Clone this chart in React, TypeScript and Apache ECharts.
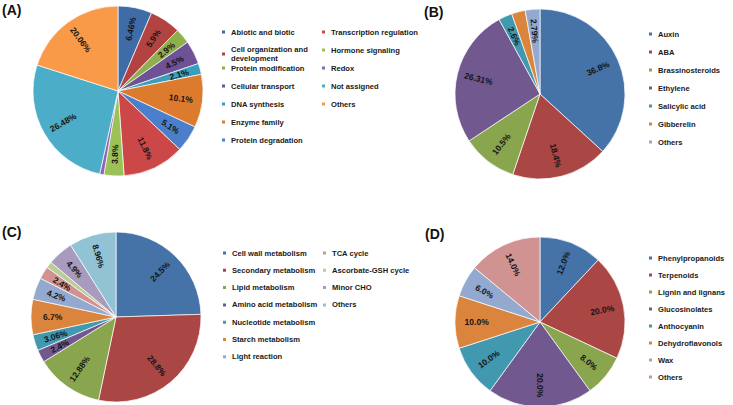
import React, { useEffect, useRef } from "react";
import * as echarts from "echarts";

const A_NAMES = [
  "Abiotic and biotic",
  "Cell organization and development",
  "Protein modification",
  "Cellular transport",
  "DNA synthesis",
  "Enzyme family",
  "Protein degradation",
  "Transcription regulation",
  "Hormone signaling",
  "Redox",
  "Not assigned",
  "Others",
];
const A_VALUES = [6.46, 5.9, 2.9, 4.5, 2.1, 10.1, 5.1, 11.8, 3.8, 0.8, 26.48, 20.06];
const A_COLORS = ["#3F6BA6", "#B24340", "#8DAF4C", "#6F5195", "#3A9FBA", "#DC7B2E", "#4B7FCB", "#CC4848", "#9CC157", "#8A67B8", "#4BADC8", "#F89A47"];

const B_NAMES = ["Auxin", "ABA", "Brassinosteroids", "Ethylene", "Salicylic acid", "Gibberelin", "Others"];
const B_VALUES = [36.8, 18.4, 10.5, 26.31, 2.6, 2.6, 2.79];
const B_COLORS = ["#4572A7", "#AA4643", "#89A54E", "#71588F", "#4198AF", "#DB843D", "#93A9CF"];

const C_NAMES = [
  "Cell wall metabolism",
  "Secondary metabolism",
  "Lipid metabolism",
  "Amino acid metabolism",
  "Nucleotide metabolism",
  "Starch metabolism",
  "Light reaction",
  "TCA cycle",
  "Ascorbate-GSH cycle",
  "Minor CHO",
  "Others",
];
const C_VALUES = [24.5, 28.8, 12.88, 2.4, 3.06, 6.7, 4.2, 2.4, 1.2, 4.9, 8.96];
const C_COLORS = ["#4572A7", "#AA4643", "#89A54E", "#71588F", "#4198AF", "#DB843D", "#93A9CF", "#D19392", "#B9CD96", "#A99BBD", "#92C3D5"];

const D_NAMES = ["Phenylpropanoids", "Terpenoids", "Lignin and lignans", "Glucosinolates", "Anthocyanin", "Dehydroflavonols", "Wax", "Others"];
const D_VALUES = [12.0, 20.0, 8.0, 20.0, 10.0, 10.0, 6.0, 14.0];
const D_COLORS = ["#4572A7", "#AA4643", "#89A54E", "#71588F", "#4198AF", "#DB843D", "#93A9CF", "#D19392"];

const PANEL_TITLES = ["(A)", "(B)", "(C)", "(D)"];

const FONT = "'Liberation Sans', Arial, sans-serif";
const R = 85;

function pieSeries(id: string, names: string[], values: number[], colors: string[], center: number[], digits: number | null) {
  const data = names.map((n, i) => ({ name: n, value: values[i], itemStyle: { color: colors[i] } }));
  const labelData = names.map((n, i) => ({
    name: n,
    value: values[i],
    label: { show: values[i] >= 1 },
  }));
  return [
    {
      id: id + "-main",
      type: "pie",
      center,
      radius: [0, R],
      startAngle: 90,
      clockwise: true,
      label: { show: false },
      labelLine: { show: false },
      itemStyle: { borderColor: "#ffffff", borderWidth: 0.7 },
      data,
    },
    {
      id: id + "-labels",
      type: "pie",
      center,
      radius: [R * 0.42, R],
      startAngle: 90,
      clockwise: true,
      silent: true,
      itemStyle: { color: "rgba(0,0,0,0)", borderWidth: 0 },
      label: {
        show: true,
        position: "inside",
        rotate: "radial",
        color: "#141414",
        fontSize: 8.5,
        fontWeight: "bold",
        fontFamily: FONT,
        formatter: (p: any) => (digits === null ? String(p.value) : Number(p.value).toFixed(digits)) + "%",
      },
      labelLine: { show: false },
      data: labelData,
    },
  ];
}

function legend(names: string[], colors: string[], left: number, top: number, gap: number) {
  return {
    orient: "vertical",
    left,
    top,
    padding: 0,
    itemGap: gap,
    itemWidth: 5,
    itemHeight: 5,
    icon: "rect",
    data: names.map((n, i) => ({ name: n, itemStyle: { color: colors[i] } })),
    textStyle: { fontSize: 7.6, fontWeight: "bold", color: "#1a1a1a", fontFamily: FONT, lineHeight: 9 },
    formatter: (n: string) => (n === "Cell organization and development" ? "Cell organization and\ndevelopment" : n),
  };
}

export default function App() {
  const ref = useRef<HTMLDivElement>(null);
  useEffect(() => {
    if (!ref.current) return;
    const chart = echarts.init(ref.current, null, { renderer: "svg" });
    const titlePos = [
      [2, 3],
      [424, 5],
      [2, 225],
      [425, 227],
    ];
    chart.setOption({
      animation: false,
      backgroundColor: "#ffffff",
      title: PANEL_TITLES.map((t, i) => ({
        text: t,
        left: titlePos[i][0],
        top: titlePos[i][1],
        padding: 0,
        textStyle: { fontSize: 14, fontWeight: "bold", color: "#111", fontFamily: FONT },
      })),
      legend: [
        legend(A_NAMES.slice(0, 2), A_COLORS.slice(0, 2), 220, 27.5, 8.5),
        legend(A_NAMES.slice(2, 7), A_COLORS.slice(2, 7), 220, 63.5, 9),
        legend(A_NAMES.slice(7), A_COLORS.slice(7), 320, 27.5, 9),
        legend(B_NAMES, B_COLORS, 647, 29.5, 9),
        legend(C_NAMES.slice(0, 7), C_COLORS.slice(0, 7), 221, 248.5, 8.3),
        legend(C_NAMES.slice(7), C_COLORS.slice(7), 321, 248.5, 8.3),
        legend(D_NAMES, D_COLORS, 647, 253.5, 8),
      ],
      series: [
        ...pieSeries("A", A_NAMES, A_VALUES, A_COLORS, [118, 91], null),
        ...pieSeries("B", B_NAMES, B_VALUES, B_COLORS, [540, 94], null),
        ...pieSeries("C", C_NAMES, C_VALUES, C_COLORS, [116, 317], null),
        ...pieSeries("D", D_NAMES, D_VALUES, D_COLORS, [540, 322], 1),
      ],
    });
    return () => chart.dispose();
  }, []);
  return <div ref={ref} style={{ position: "fixed", left: 0, top: 0, width: 733, height: 405 }} />;
}
